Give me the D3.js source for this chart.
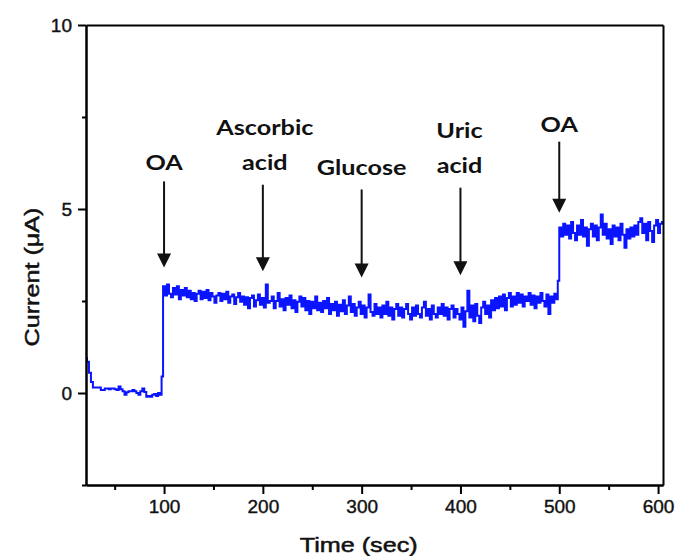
<!DOCTYPE html>
<html>
<head>
<meta charset="utf-8">
<script src="https://cdn.jsdelivr.net/npm/d3@7"></script>
<style>
  body { margin: 0; background: #fff; }
</style>
</head>
<body>
<div id="chart"></div>
<script>
// sampling: one reading every 2 s, each segment has its own start time
var sampleStep = 2;

// before first OA addition (21 s .. 97 s)
var seg1Start = 21;
var seg1Current = [
	0.95, 0.85, 0.55, 0.3, 0.15, 0.15, 0.15, 0.15, 0.08, 0.08,
	0.12, 0.12, 0.1, 0.12, 0.12, 0.1, 0.08, 0.18, 0.1, 0.05,
	-0.05, 0.02, 0.05, 0.05, 0.08, 0.05, 0.0, -0.05, 0.05, 0.12,
	0.03, -0.1, -0.08, -0.1, -0.05, -0.03, -0.08, 0.0, -0.05
];

// after OA, interferents added (98 s .. 498 s)
var seg2Start = 98;
var seg2Current = [
	0.45,
	2.9, 2.65, 2.95, 2.7, 2.6, 2.85, 2.68, 2.9, 2.55, 2.8,
	2.65, 2.85, 2.6, 2.78, 2.55, 2.72, 2.5, 2.7, 2.78, 2.55,
	2.75, 2.58, 2.8, 2.52, 2.72, 2.62, 2.45, 2.65, 2.72, 2.5,
	2.7, 2.55, 2.75, 2.45, 2.62, 2.68, 2.42, 2.6, 2.72, 2.48,
	2.62, 2.4, 2.6, 2.3, 2.58, 2.65, 2.35, 2.52, 2.68, 2.4,
	2.58, 2.32, 2.95, 2.45, 2.5, 2.62, 2.3, 2.5, 2.72, 2.35,
	2.55, 2.25, 2.58, 2.4, 2.65, 2.3, 2.52, 2.2, 2.48, 2.62,
	2.35, 2.58, 2.25, 2.5, 2.15, 2.48, 2.3, 2.62, 2.25, 2.45,
	2.2, 2.5, 2.3, 2.58, 2.15, 2.42, 2.25, 2.48, 2.1, 2.4,
	2.22, 2.52, 2.15, 2.38, 2.62, 2.2, 2.42, 2.1, 2.32, 2.48,
	2.15, 2.38, 2.05, 2.32, 2.68, 2.2, 2.1, 2.42, 2.15, 2.32,
	2.05, 2.38, 2.15, 2.48, 2.1, 2.32, 2.0, 2.28, 2.42, 2.1,
	2.32, 2.05, 2.28, 2.42, 2.15, 2.0, 2.32, 2.1, 2.38, 2.15,
	2.05, 2.32, 2.48, 2.1, 2.28, 2.0, 2.38, 2.15, 2.05, 2.32,
	2.15, 2.42, 2.1, 2.32, 2.0, 2.28, 2.38, 2.05, 2.28, 2.15,
	2.0, 2.32, 1.8, 2.22, 2.78, 2.05, 2.38, 1.95, 2.42, 2.1,
	1.9, 2.32, 2.48, 2.15, 2.38, 2.05, 2.52, 2.25, 2.58, 2.3,
	2.62, 2.35, 2.68, 2.25, 2.58, 2.72, 2.35, 2.62, 2.4, 2.72,
	2.45, 2.68, 2.35, 2.62, 2.5, 2.72, 2.4, 2.65, 2.3, 2.62,
	2.45, 2.72, 2.5, 2.35, 2.68, 2.15, 2.62, 2.45, 2.7, 2.55
];

// second OA addition (499 s .. 605 s)
var seg3Start = 499;
var seg3Current = [
	3.05,
	4.5, 4.25, 4.6, 4.3, 4.55, 4.2, 4.65, 4.35, 4.15, 4.55,
	4.3, 4.7, 4.25, 4.5, 4.0, 4.45, 4.6, 4.25, 4.55, 4.15,
	4.5, 4.85, 4.3, 4.6, 4.2, 4.45, 4.05, 4.55, 4.25, 4.5,
	4.15, 4.6, 4.3, 3.95, 4.45, 4.2, 4.5, 4.25, 4.55, 4.3,
	4.65, 4.75, 4.35, 4.6, 4.15, 4.65, 4.4, 4.1, 4.55, 4.7,
	4.35, 4.6, 4.65
];

// additions
var addTimes = [100, 200, 300, 400, 500];
var addLabels = [["OA"], ["Ascorbic", "acid"], ["Glucose"], ["Uric", "acid"], ["OA"]];

// axis ticks
var xMajor = [100, 200, 300, 400, 500, 600];
var xMinor = [50, 150, 250, 350, 450, 550];
var yMajor = [0, 5, 10];
var yMinor = [-2.5, 2.5, 7.5];

var width = 676, height = 556;
var plotLeft = 86, plotRight = 663, plotTop = 25, plotBottom = 485;

var svg = d3.select("#chart").append("svg")
	.attr("width", width)
	.attr("height", height);

var x = d3.scaleLinear().domain([21, 605]).range([plotLeft, plotRight]);
var y = d3.scaleLinear().domain([-2.5, 10]).range([plotBottom, plotTop]);

//build points from segments
function toPoints(start, values) {
	return values.map(function (v, i) { return { t: start + i * sampleStep, c: v }; });
}
var points = toPoints(seg1Start, seg1Current)
	.concat(toPoints(seg2Start, seg2Current))
	.concat(toPoints(seg3Start, seg3Current));

var line = d3.line()
	.curve(d3.curveStep)
	.x(function (d) { return x(d.t); })
	.y(function (d) { return y(d.c); });

svg.append("path")
	.datum(points)
	.attr("d", line)
	.attr("fill", "none")
	.attr("stroke", "#0a14ff")
	.attr("stroke-width", 2)
	.attr("stroke-linejoin", "miter");

//axes
function styleAxis(g) {
	g.selectAll("path, line").attr("stroke", "#000").attr("stroke-width", 2);
	g.selectAll("text")
		.attr("font-family", "Liberation Sans, Arial, sans-serif")
		.attr("font-size", "19px")
		.attr("fill", "#111")
		.attr("stroke", "#111")
		.attr("stroke-width", 0.4);
}

svg.append("g")
	.attr("transform", "translate(0," + plotBottom + ")")
	.call(d3.axisBottom(x).tickValues(xMinor).tickSize(5).tickSizeOuter(0).tickFormat(""))
	.call(styleAxis);
svg.append("g")
	.attr("transform", "translate(0," + plotBottom + ")")
	.call(d3.axisBottom(x).tickValues(xMajor).tickSize(9).tickSizeOuter(0).tickPadding(6))
	.call(styleAxis);

svg.append("g")
	.attr("transform", "translate(" + plotLeft + ",0)")
	.call(d3.axisLeft(y).tickValues(yMinor).tickSize(4).tickSizeOuter(0).tickFormat(""))
	.call(styleAxis);
svg.append("g")
	.attr("transform", "translate(" + plotLeft + ",0)")
	.call(d3.axisLeft(y).tickValues(yMajor).tickSize(8).tickSizeOuter(0).tickPadding(6))
	.call(styleAxis);

//frame on top and right
svg.append("g")
	.attr("transform", "translate(0," + plotTop + ")")
	.call(d3.axisTop(x).tickValues([]).tickSizeOuter(0))
	.call(styleAxis);
svg.append("g")
	.attr("transform", "translate(" + plotRight + ",0)")
	.call(d3.axisRight(y).tickValues([]).tickSizeOuter(0))
	.call(styleAxis);

//axis titles
svg.append("text")
	.text("Time (sec)")
	.attr("x", x(297))
	.attr("y", 552)
	.attr("text-anchor", "middle")
	.attr("font-family", "Liberation Sans, Arial, sans-serif")
	.attr("font-size", "21px")
	.attr("textLength", 118)
	.attr("lengthAdjust", "spacingAndGlyphs")
	.attr("fill", "#111")
	.attr("stroke", "#111")
	.attr("stroke-width", 0.5);

svg.append("text")
	.text("Current (\u03bcA)")
	.attr("transform", "translate(39," + 277 + ") rotate(-90)")
	.attr("text-anchor", "middle")
	.attr("font-family", "Liberation Sans, Arial, sans-serif")
	.attr("font-size", "21px")
	.attr("textLength", 139)
	.attr("lengthAdjust", "spacingAndGlyphs")
	.attr("fill", "#111")
	.attr("stroke", "#111")
	.attr("stroke-width", 0.5);

//annotation layout in data units: label baseline, shaft top, arrow tip
var annot = [
	{ base: 6.07, shaft: 5.75, tip: 3.41 },
	{ base: 6.07, shaft: 5.66, tip: 3.31 },
	{ base: 5.92, shaft: 5.53, tip: 3.14 },
	{ base: 5.98, shaft: 5.58, tip: 3.2 },
	{ base: 7.1, shaft: 6.83, tip: 4.9 }
];

var lineGap = 35;
addTimes.forEach(function (t, i) {
	var a = annot[i];
	var cx = x(t) + (i === 1 ? 2 : 0) + (i === 3 ? -1 : 0);
	var lbl = addLabels[i];
	lbl.forEach(function (s, j) {
		svg.append("text")
			.text(s)
			.attr("transform", "translate(" + cx + "," + (y(a.base) - (lbl.length - 1 - j) * lineGap) + ") scale(1.2,1)")
			.attr("text-anchor", "middle")
			.attr("font-family", "Lato, Open Sans, sans-serif")
			.attr("font-weight", "bold")
			.attr("font-size", "21px")
			.attr("fill", "#111");
	});
	var ax = x(t);
	var tipY = y(a.tip);
	svg.append("line")
		.attr("x1", ax).attr("x2", ax)
		.attr("y1", y(a.shaft)).attr("y2", tipY - 10)
		.attr("stroke", "#111")
		.attr("stroke-width", 2);
	svg.append("path")
		.attr("d", "M" + (ax - 7) + "," + (tipY - 14) + "L" + (ax + 7) + "," + (tipY - 14) + "L" + ax + "," + tipY + "Z")
		.attr("fill", "#111");
});
</script>
</body>
</html>
